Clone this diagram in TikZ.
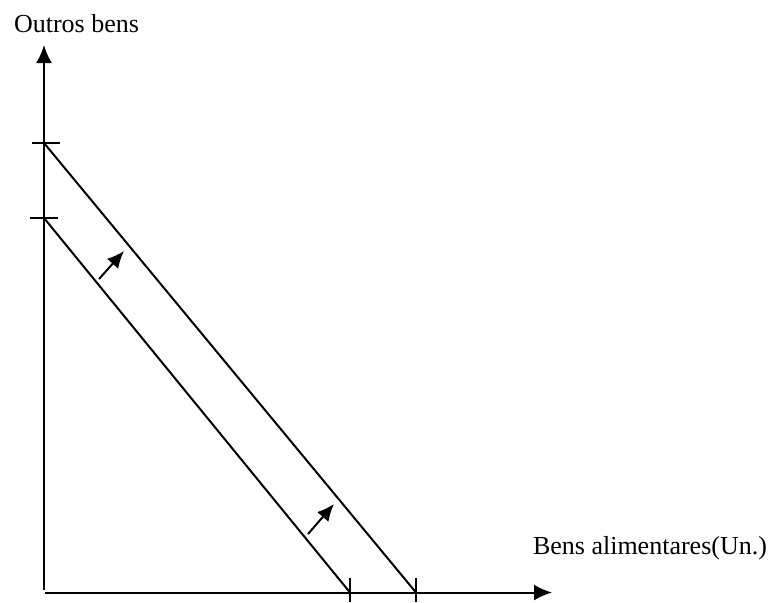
\documentclass[tikz,border=0pt]{standalone}
\usepackage{fontspec}
\setmainfont{Liberation Serif}
\usetikzlibrary{arrows.meta}

\begin{document}
\begin{tikzpicture}[x=0.5pt,y=-0.5pt,line width=1pt,
    seta/.style={-{Latex[length=9pt,width=8pt]}},
    setinha/.style={-{Latex[length=8.5pt,width=7.5pt]}},
    rotulo/.style={anchor=base west,inner sep=0pt,font=\fontsize{13}{15}\selectfont}]
    \useasboundingbox (0,0) rectangle (771,602);

    % Eixos
    \coordinate (origemY) at (44,590);
    \coordinate (topoY) at (44,45);
    \coordinate (origemX) at (45,592.5);
    \coordinate (fimX) at (552,592.5);
    \draw[seta] (origemY) -- (topoY);
    \draw[seta] (origemX) -- (fimX);
    \node[rotulo] (eixoY) at (13,32) {Outros bens};
    \node[rotulo] (eixoX) at (532,554) {Bens alimentares(Un.)};

    % Retas orcamentais
    \coordinate (ini1) at (44,218);
    \coordinate (fim1) at (350,592.5);
    \coordinate (ini2) at (44,143);
    \coordinate (fim2) at (416,592.5);
    \draw (ini1) -- (fim1);
    \draw (ini2) -- (fim2);

    % Marcacoes
    \draw (30,218) -- (58,218);
    \draw (32,143) -- (60,143);
    \draw (350,578) -- (350,602);
    \draw (416,578) -- (416,602);

    % Deslocamento
    \coordinate (s1) at (99,279);
    \coordinate (t1) at (124,251);
    \coordinate (s2) at (308,534);
    \coordinate (t2) at (334,504);
    \draw[setinha] (s1) -- (t1);
    \draw[setinha] (s2) -- (t2);
\end{tikzpicture}
\end{document}
